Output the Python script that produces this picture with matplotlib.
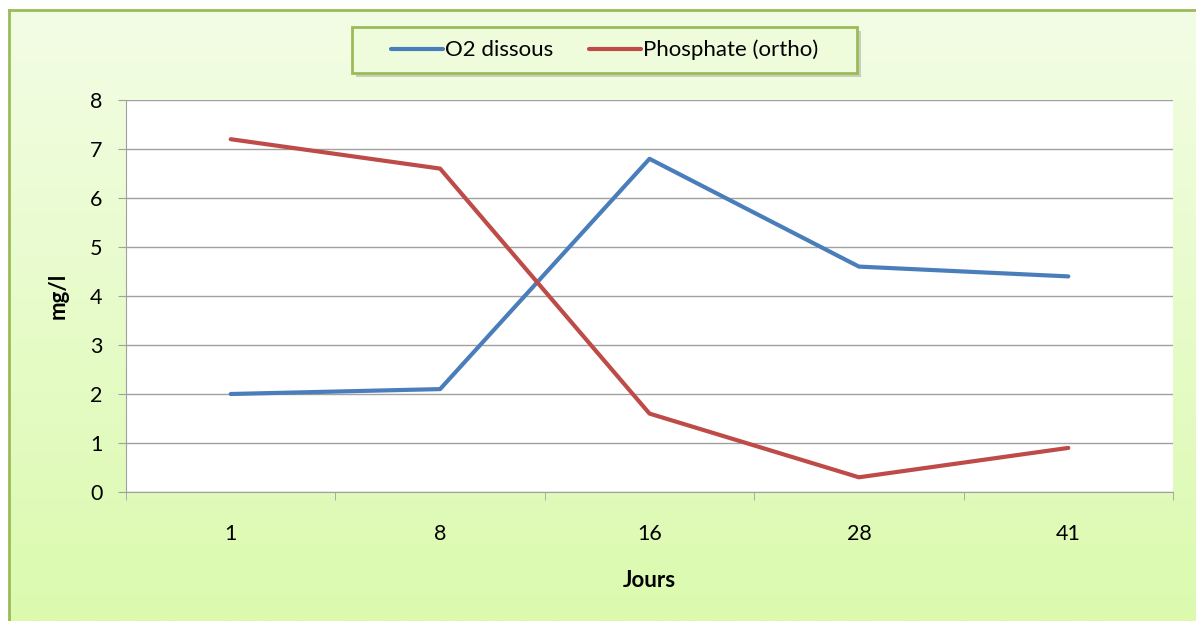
import numpy as np
import matplotlib
matplotlib.use("Agg")
import matplotlib.pyplot as plt
from matplotlib.colors import LinearSegmentedColormap
from matplotlib.patches import Rectangle

plt.rcParams['font.family'] = ['Lato', 'DejaVu Sans']

jours = ['1', '8', '16', '28', '41']
o2_dissous = [2.0, 2.1, 6.8, 4.6, 4.4]
phosphate = [7.2, 6.6, 1.6, 0.3, 0.9]

W, H = 1196, 621
fig = plt.figure(figsize=(W / 100, H / 100), dpi=100)
fig.patch.set_facecolor('white')

# green gradient frame behind the chart
bg = fig.add_axes([9 / W, 0, 1 - 9 / W + 0.01, 1 - 10 / H])
grad = np.linspace(0, 1, 256).reshape(-1, 1)
cmap = LinearSegmentedColormap.from_list('g', ['#f3fde5', '#dbfaae'])
bg.imshow(grad, aspect='auto', cmap=cmap, extent=[0, 1, 0, 1], origin='upper')
bg.set_xlim(0, 1)
bg.set_ylim(0, 1)
bg.set_xticks([])
bg.set_yticks([])
for s in ['right', 'bottom']:
    bg.spines[s].set_visible(False)
for s in ['left', 'top']:
    bg.spines[s].set_color('#9bbb59')
    bg.spines[s].set_linewidth(2)

# legend box (drawn by hand so its size matches)
lx0, lx1, ly0, ly1 = 352, 857, 27, 73
fig.patches.append(Rectangle(((lx0 + 4) / W, 1 - (ly1 + 4) / H), (lx1 - lx0) / W, (ly1 - ly0) / H,
                             transform=fig.transFigure, facecolor='#9a9a9a', alpha=0.45,
                             edgecolor='none', zorder=1))
fig.patches.append(Rectangle((lx0 / W, 1 - ly1 / H), (lx1 - lx0) / W, (ly1 - ly0) / H,
                             transform=fig.transFigure, facecolor='#effcdc',
                             edgecolor='#9bbb59', lw=2, zorder=2))

ax = fig.add_axes([126 / W, 1 - 492 / H, (1173 - 126) / W, (492 - 100) / H])
ax.set_facecolor('white')
x = np.arange(len(jours))
ax.plot(x, o2_dissous, color='#4a7ebb', lw=3, label='O2 dissous', solid_capstyle='round')
ax.plot(x, phosphate, color='#be4b48', lw=3, label='Phosphate (ortho)', solid_capstyle='round')

ax.set_xlim(-0.5, len(jours) - 0.5)
ax.set_ylim(0, 8)
ax.set_yticks(range(0, 9))
ax.yaxis.grid(True, color='#a0a0a0', lw=1)
ax.set_axisbelow(True)
ax.set_xticks(x)
ax.set_xticklabels(jours)
ax.set_xticks(np.arange(-0.5, len(jours)), minor=True)
ax.tick_params(axis='x', which='major', length=0, pad=23, labelsize=15.5)
ax.tick_params(axis='x', which='minor', length=6, color='#a0a0a0', direction='out')
ax.tick_params(axis='y', length=6, color='#a0a0a0', pad=11, labelsize=15.5)
for s in ['top', 'right']:
    ax.spines[s].set_visible(False)
for s in ['left', 'bottom']:
    ax.spines[s].set_color('#a0a0a0')

ax.set_xlabel('Jours', fontsize=16, fontweight='bold', labelpad=19)
ax.set_ylabel('mg/l', fontsize=16, fontweight='bold', labelpad=15)

leg = fig.legend(loc='center', bbox_to_anchor=((lx0 + lx1) / 2 / W, 1 - (ly0 + ly1) / 2 / H),
                 ncol=2, fontsize=16, frameon=False,
                 handlelength=2.35, columnspacing=1.6, handletextpad=0.1)
leg.set_zorder(3)

fig.savefig('out.png', dpi=100)
